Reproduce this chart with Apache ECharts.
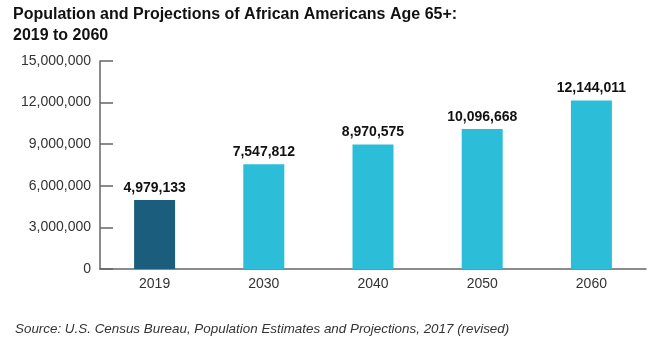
<!DOCTYPE html>
<html><head><meta charset="utf-8">
<script src="https://cdn.jsdelivr.net/npm/echarts@6/dist/echarts.min.js"></script>
<style>html,body{margin:0;padding:0;background:#fff}#c{width:658px;height:338px}</style>
</head><body><div id="c"></div>
<script>
const categories = ['2019','2030','2040','2050','2060'];
const values = [4979133, 7547812, 8970575, 10096668, 12144011];
const barColors = ['#1b5d7d','#2cbdd9','#2cbdd9','#2cbdd9','#2cbdd9'];
const yTicks = [0, 3000000, 6000000, 9000000, 12000000, 15000000];
const fmt = v => v.toLocaleString('en-US');
const chart = echarts.init(document.getElementById('c'));
chart.setOption({
  animation:false,
  textStyle:{fontFamily:'Liberation Sans, Arial, sans-serif'},
  title:[
    {text:'Population and Projections of African Americans Age 65+:\n2019 to 2060', left:8, top:-1,
     textStyle:{fontSize:16, fontWeight:'bold', color:'#111', lineHeight:21, fontFamily:'Liberation Sans, Arial, sans-serif'}},
    {text:'Source: U.S. Census Bureau, Population Estimates and Projections, 2017 (revised)', left:10, top:318,
     textStyle:{fontSize:13.4, fontStyle:'italic', fontWeight:'normal', color:'#333', fontFamily:'Liberation Sans, Arial, sans-serif'}}
  ],
  grid:{left:100, right:12, top:61, bottom:69},
  xAxis:{type:'category', data:categories,
    axisLine:{lineStyle:{color:'#666', width:1.5}},
    axisTick:{inside:true, length:4, lineStyle:{color:'#666'}},
    axisLabel:{color:'#333', fontSize:14, margin:8}},
  yAxis:{type:'value', min:yTicks[0], max:yTicks[yTicks.length-1], interval:3000000,
    splitLine:{show:false},
    axisLine:{show:true, lineStyle:{color:'#666', width:1.5}},
    axisTick:{show:true, inside:true, length:13, lineStyle:{color:'#666', width:1.5}},
    axisLabel:{color:'#333', fontSize:14, margin:9, formatter:v=>fmt(v)}},
  series:[{type:'bar', barWidth:41,
    data:values.map((v,i)=>({value:v, itemStyle:{color:barColors[i]}})),
    label:{show:true, position:'top', distance:5, color:'#111', fontSize:14, fontWeight:'bold', formatter:p=>fmt(p.value)}}]
});
</script></body></html>
